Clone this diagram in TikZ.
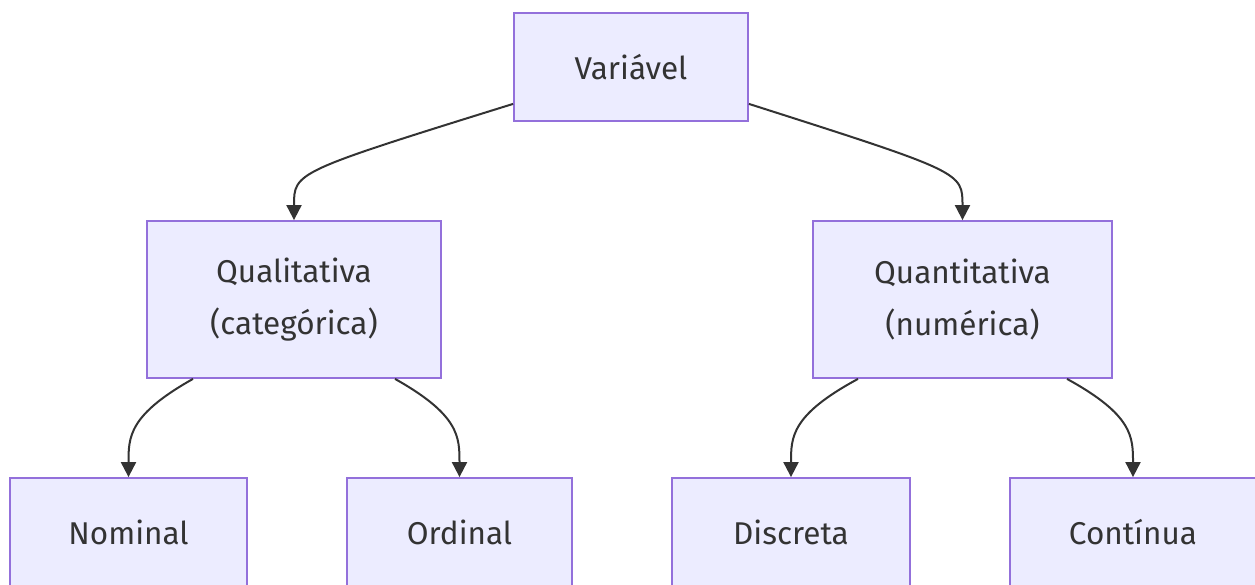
\documentclass[tikz,border=0pt]{standalone}
\usepackage{fontspec}
\setmainfont{Fira Sans}
\usetikzlibrary{arrows.meta,calc}
\definecolor{boxfill}{HTML}{ECECFF}
\definecolor{boxline}{HTML}{9370DB}
\definecolor{ink}{HTML}{333333}
\tikzset{
  box/.style={draw=boxline, fill=boxfill, line width=1.8pt, text=ink, align=center,
    font=\fontsize{31.5}{52}\selectfont, inner sep=0pt, anchor=center},
  link/.style={draw=ink, line width=2pt, -{Triangle[length=15pt,width=15pt]}}
}
\begin{document}
\begin{tikzpicture}[x=1pt,y=-1pt]
\useasboundingbox (0,0) rectangle (1255,585);
\clip (0,0) rectangle (1255,585);
\node[box, minimum width=234pt, minimum height=108pt] (var) at (631,67) {Variável};
\node[box, minimum width=294pt, minimum height=157pt] (qual) at (294,299.5) {Qualitativa\\(categórica)};
\node[box, minimum width=299pt, minimum height=157pt] (quant) at (962.5,299.5) {Quantitativa\\(numérica)};
\node[box, minimum width=237pt, minimum height=108pt] (nom) at (128.5,532) {Nominal};
\node[box, minimum width=225pt, minimum height=108pt] (ord) at (459.5,532) {Ordinal};
\node[box, minimum width=238pt, minimum height=108pt] (disc) at (791,532) {Discreta};
\node[box, minimum width=246pt, minimum height=108pt] (cont) at (1133,532) {Contínua};
\draw[link] ($(var.south west)+(0,-18)$) .. controls ($(qual.north)+(0,-48)$) and ($(qual.north)+(0,-48)$) .. (qual.north);
\draw[link] ($(var.south east)+(0,-18)$) .. controls ($(quant.north)+(0,-48)$) and ($(quant.north)+(0,-48)$) .. (quant.north);
\draw[link] ($(qual.south)+(-101,0)$) .. controls ($(nom.north)+(0,-62)$) and ($(nom.north)+(0,-40)$) .. (nom.north);
\draw[link] ($(qual.south)+(101,0)$) .. controls ($(ord.north)+(0,-62)$) and ($(ord.north)+(0,-40)$) .. (ord.north);
\draw[link] ($(quant.south)+(-104.5,0)$) .. controls ($(disc.north)+(0,-62)$) and ($(disc.north)+(0,-40)$) .. (disc.north);
\draw[link] ($(quant.south)+(104.5,0)$) .. controls ($(cont.north)+(0,-62)$) and ($(cont.north)+(0,-40)$) .. (cont.north);
\end{tikzpicture}
\end{document}
